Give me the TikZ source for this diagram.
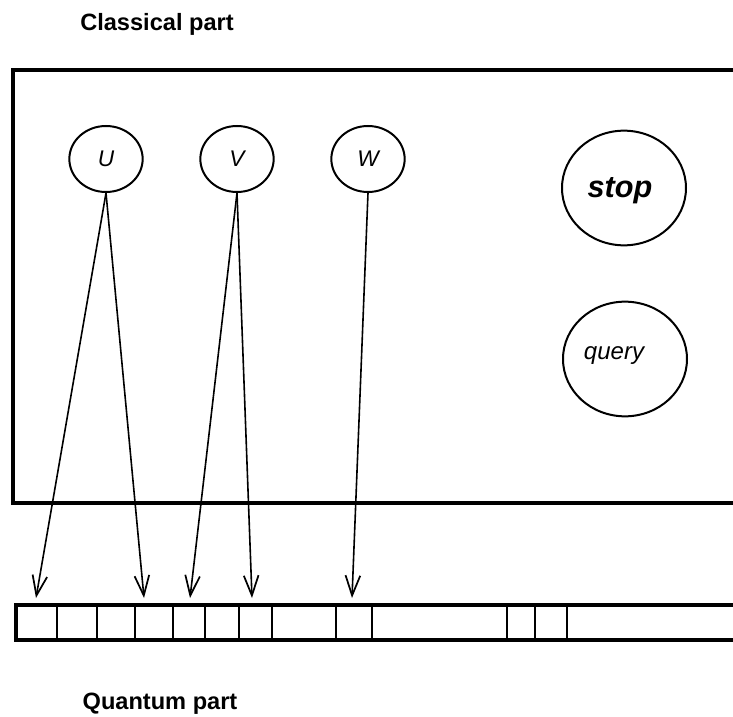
\documentclass[tikz,border=0pt]{standalone}
\usepackage{fontspec}
\setmainfont{Liberation Sans}
\usetikzlibrary{arrows.meta, shapes.geometric}

\tikzset{
  unit/.style={draw, line width=1.5pt, ellipse, minimum width=55pt, minimum height=49.5pt, inner sep=0pt,
    font=\itshape\fontsize{17}{19}\selectfont},
  bigunit/.style={draw, line width=1.5pt, ellipse, minimum width=93pt, minimum height=86pt, inner sep=0pt},
  feed/.style={line width=1.2pt, -{Straight Barb[length=15pt, width=11pt, line width=1.3pt]}},
  partlabel/.style={anchor=base, inner sep=0pt, font=\bfseries\fontsize{17.7}{20}\selectfont}
}

\begin{document}
\begin{tikzpicture}[x=0.75pt,y=0.75pt,yscale=-1,xscale=1]
\useasboundingbox (0,0) rectangle (733,717);
\fill[white] (0,0) rectangle (733,717);

%Classical part box
\draw [line width=2.5pt] (745,70) -- (13,70) -- (13,503) -- (745,503) ;

%Quantum register
\draw [line width=2.5pt] (745,605) -- (16,605) -- (16,640) -- (745,640) ;
\foreach \xc in {57,97,135,173,205,239,272,336,372,507,535,567}
  \draw [line width=1.7pt] (\xc,605) -- (\xc,640) ;

% Text Node
\node [partlabel] (classical) at (157,31) {Classical part};
% Text Node
\node [partlabel] (quantum) at (160,709) {Quantum part};

%Units
\node [unit] (U) at (106,159) {U};
\node [unit] (V) at (237,159) {V};
\node [unit] (W) at (368,159) {W};
\node [bigunit] (stop) at (624,188) {};
\node [bigunit] (query) at (625,359) {};
\node [font=\bfseries\itshape\fontsize{23}{26}\selectfont, inner sep=0pt] (stoptext) at (620,191) {stop};
\node [font=\itshape\fontsize{18}{20}\selectfont, inner sep=0pt] (querytext) at (614,356) {query};

%Arrow targets on the register
\coordinate (u1) at (36,598);
\coordinate (u2) at (144,598);
\coordinate (v1) at (190,598);
\coordinate (v2) at (252,598);
\coordinate (w1) at (352,598);

\draw [feed] (U.south) -- (u1) ;
\draw [feed] (U.south) -- (u2) ;
\draw [feed] (V.south) -- (v1) ;
\draw [feed] (V.south) -- (v2) ;
\draw [feed] (W.south) -- (w1) ;

\end{tikzpicture}
\end{document}
